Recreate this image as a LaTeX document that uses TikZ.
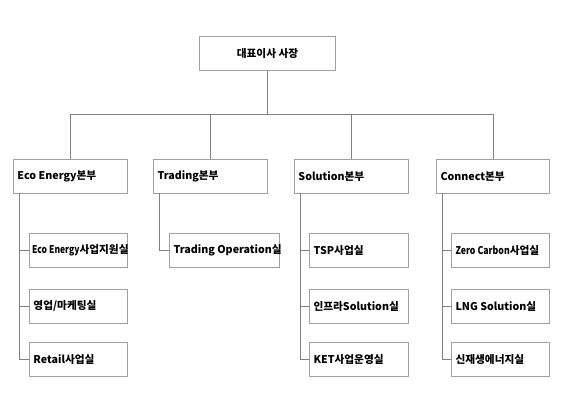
\documentclass[tikz,border=0pt]{standalone}
\usepackage{fontspec}
\setmainfont{Noto Sans CJK KR}
\tikzset{every picture/.style={line width=0.75pt}}
\tikzset{
  orgbox/.style={draw={rgb,255:red,160;green,160;blue,160}, line width=0.6pt, anchor=north west,
    inner sep=3pt, align=left, font=\fontsize{8}{9.5}\selectfont\bfseries},
  orgtext/.style={anchor=west, inner sep=0pt, font=\fontsize{8}{9.5}\selectfont\bfseries},
  orgline/.style={draw={rgb,255:red,128;green,128;blue,128}, line width=0.6pt}
}
\begin{document}
\begin{tikzpicture}[x=0.75pt,y=0.75pt,yscale=-1,xscale=1]
\useasboundingbox (0,0) rectangle (587,400);

% CEO
\node [orgbox, minimum width=102pt, minimum height=25.5pt, align=center, anchor=north] (ceo) at (267.5,36) {대표이사 사장};

% Divisions
\node [orgbox, minimum width=85.5pt, minimum height=25.5pt] (eco) at (13,159) {};
\node [orgtext] (ecoT) at ([xshift=3pt]eco.west) {Eco Energy본부};
\node [orgbox, minimum width=85.5pt, minimum height=25.5pt] (trd) at (153,159) {};
\node [orgtext] (trdT) at ([xshift=3pt]trd.west) {Trading본부};
\node [orgbox, minimum width=85.5pt, minimum height=25.5pt] (sol) at (294,159) {};
\node [orgtext] (solT) at ([xshift=3pt]sol.west) {Solution본부};
\node [orgbox, minimum width=85pt, minimum height=25.5pt] (con) at (436,159) {};
\node [orgtext] (conT) at ([xshift=3pt]con.west) {Connect본부};

% Teams
\node [orgbox, minimum width=73.5pt, minimum height=25.5pt] (ecoA) at (29,233) {};
\node [orgtext] (ecoAT) at ([xshift=2pt]ecoA.west) {\scalebox{0.8}[1]{Eco Energy}사업지원실};
\node [orgbox, minimum width=73.5pt, minimum height=25.5pt] (ecoB) at (29,289) {};
\node [orgtext] (ecoBT) at ([xshift=3pt]ecoB.west) {영업/마케팅실};
\node [orgbox, minimum width=73.5pt, minimum height=25.5pt] (ecoC) at (29,342) {};
\node [orgtext] (ecoCT) at ([xshift=3pt]ecoC.west) {Retail사업실};

\node [orgbox, minimum width=82.5pt, minimum height=25.5pt] (trdA) at (169,233) {};
\node [orgtext] (trdAT) at ([xshift=3pt]trdA.west) {Trading Operation실};

\node [orgbox, minimum width=74pt, minimum height=25.5pt] (solA) at (309,233) {};
\node [orgtext] (solAT) at ([xshift=3pt]solA.west) {TSP사업실};
\node [orgbox, minimum width=74pt, minimum height=25.5pt] (solB) at (309,289) {};
\node [orgtext] (solBT) at ([xshift=3pt]solB.west) {인프라Solution실};
\node [orgbox, minimum width=74pt, minimum height=25.5pt] (solC) at (309,342) {};
\node [orgtext] (solCT) at ([xshift=3pt]solC.west) {KET사업운영실};

\node [orgbox, minimum width=73.5pt, minimum height=25.5pt] (conA) at (451,233) {};
\node [orgtext] (conAT) at ([xshift=3pt]conA.west) {\scalebox{0.82}[1]{Zero Carbon}사업실};
\node [orgbox, minimum width=73.5pt, minimum height=25.5pt] (conB) at (451,289) {};
\node [orgtext] (conBT) at ([xshift=3pt]conB.west) {LNG Solution실};
\node [orgbox, minimum width=73.5pt, minimum height=25.5pt] (conC) at (451,342) {};
\node [orgtext] (conCT) at ([xshift=3pt]conC.west) {신재생에너지실};

% Bus and trunks
\coordinate (busL) at (70,114);
\coordinate (busR) at (492.5,114);
\coordinate (ecoTr) at (19,193);
\coordinate (trdTr) at (159,193);
\coordinate (solTr) at (300,193);
\coordinate (conTr) at (442,193);

\draw [orgline] (ceo.south) -- (ceo.south |- busL);
\draw [orgline] (busL) -- (busR);
\draw [orgline] (eco.north) -- (eco.north |- busL);
\draw [orgline] (trd.north) -- (trd.north |- busL);
\draw [orgline] (sol.north) -- (sol.north |- busL);
\draw [orgline] (con.north) -- (con.north |- busL);

\draw [orgline] (ecoTr) |- (ecoC.west);
\draw [orgline] (ecoTr |- ecoA.west) -- (ecoA.west);
\draw [orgline] (ecoTr |- ecoB.west) -- (ecoB.west);
\draw [orgline] (trdTr) |- (trdA.west);
\draw [orgline] (solTr) |- (solC.west);
\draw [orgline] (solTr |- solA.west) -- (solA.west);
\draw [orgline] (solTr |- solB.west) -- (solB.west);
\draw [orgline] (conTr) |- (conC.west);
\draw [orgline] (conTr |- conA.west) -- (conA.west);
\draw [orgline] (conTr |- conB.west) -- (conB.west);

\end{tikzpicture}
\end{document}
